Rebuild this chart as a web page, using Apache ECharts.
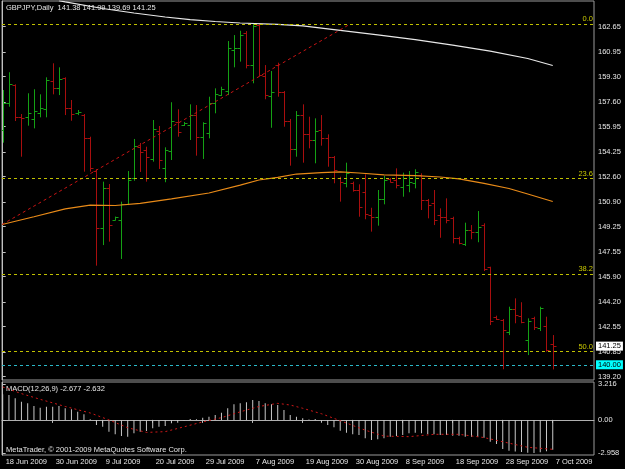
<!DOCTYPE html>
<html>
<head>
<meta charset="UTF-8">
<title>GBPJPY Daily</title>
<script src="https://cdn.jsdelivr.net/npm/echarts@6.0.0/dist/echarts.min.js"></script>
<style>
  html, body { margin: 0; padding: 0; background: #000; }
  #chart { width: 625px; height: 469px; }
</style>
</head>
<body>
<div id="chart"></div>
<script>
// daily bars, oldest first (18 Jun 2009 .. 7 Oct 2009)
const opens = [
  155.73, 157.54, 158.74, 156.58, 156.62, 156.47, 156.89, 157.14, 159.03, 158.52,
  159.19, 157.18, 156.85, 156.73, 155.17, 153.00, 149.18, 151.82, 149.73, 149.70,
  150.77, 152.51, 154.61, 154.39, 153.79, 155.66, 153.16, 154.32, 156.27, 156.06,
  156.06, 156.73, 155.28, 155.51, 157.52, 158.07, 158.34, 161.09, 161.20, 162.21,
  160.08, 162.76, 159.35, 158.01, 160.08, 158.26, 156.33, 154.44, 156.73, 155.44,
  155.06, 155.73, 155.17, 153.94, 152.49, 152.16, 152.20, 151.71, 151.60, 150.03,
  149.92, 151.09, 152.43, 152.38, 151.93, 152.04, 152.16, 152.71, 151.04, 150.82,
  150.03, 149.92, 149.81, 148.47, 148.07, 149.03, 148.92, 149.36, 146.53, 143.22,
  143.00, 142.22, 143.74, 143.27, 141.66, 143.11, 142.44, 142.60, 141.38
];
const highs = [
  158.41, 159.60, 158.79, 156.80, 158.19, 158.46, 158.12, 159.26, 160.20, 159.93,
  159.26, 157.74, 157.07, 156.80, 155.28, 153.10, 152.27, 152.11, 149.93, 150.93,
  152.98, 155.13, 154.86, 154.61, 156.40, 156.00, 154.57, 157.59, 157.12, 156.27,
  157.45, 157.40, 156.25, 157.96, 158.52, 158.63, 161.69, 162.09, 162.38, 162.36,
  162.87, 162.88, 160.08, 159.68, 160.24, 158.34, 156.47, 157.00, 157.45, 156.62,
  156.51, 156.73, 155.44, 153.99, 152.60, 153.54, 152.27, 152.09, 152.76, 150.52,
  151.71, 152.65, 152.51, 153.16, 152.87, 152.98, 153.10, 152.83, 151.11, 151.71,
  150.48, 151.15, 149.92, 148.58, 149.52, 149.36, 150.30, 149.48, 146.57, 143.29,
  143.07, 143.89, 144.45, 144.19, 143.11, 143.22, 143.89, 143.22, 141.99
];
const lows = [
  154.88, 157.29, 156.33, 153.94, 156.02, 155.84, 156.58, 156.58, 158.12, 158.07,
  156.73, 156.35, 156.73, 152.94, 152.94, 146.64, 148.02, 148.25, 149.67, 147.09,
  150.70, 152.33, 152.92, 152.27, 153.61, 153.12, 152.23, 153.72, 155.28, 156.00,
  155.06, 154.01, 153.79, 155.17, 156.85, 158.01, 158.07, 159.93, 160.31, 159.86,
  158.86, 159.30, 157.79, 155.88, 157.96, 155.95, 153.34, 153.94, 153.54, 154.50,
  153.50, 154.68, 153.27, 152.16, 150.93, 151.89, 151.60, 149.92, 149.75, 148.92,
  149.32, 150.75, 152.21, 151.82, 151.26, 151.56, 151.82, 150.37, 149.81, 149.36,
  148.51, 149.48, 148.14, 148.07, 147.96, 148.41, 148.21, 146.28, 142.66, 143.00,
  139.70, 141.99, 142.78, 142.78, 140.65, 142.33, 142.26, 140.88, 139.69
];
const closes = [
  157.52, 158.79, 156.62, 156.53, 156.89, 157.00, 157.18, 159.08, 158.52, 159.17,
  157.18, 156.80, 156.94, 155.17, 153.18, 149.18, 151.82, 149.36, 149.88, 150.77,
  152.38, 154.66, 154.26, 153.90, 155.78, 153.72, 154.39, 156.33, 155.58, 156.18,
  156.73, 155.28, 156.18, 157.52, 158.12, 158.48, 161.20, 161.20, 162.09, 160.08,
  162.72, 159.41, 158.07, 158.26, 158.26, 156.33, 154.44, 156.73, 155.44, 155.06,
  155.68, 155.17, 153.94, 153.05, 152.27, 152.87, 151.71, 150.59, 150.08, 149.92,
  151.09, 152.38, 152.27, 152.04, 152.71, 152.27, 152.94, 151.04, 150.70, 149.70,
  149.92, 149.70, 148.47, 148.14, 149.03, 148.92, 149.21, 146.40, 142.93, 143.05,
  142.33, 143.74, 143.33, 142.89, 142.93, 142.55, 143.78, 140.99, 141.25
];

// moving averages as [bar index, price]
const maWhite = [
  [9, 164.39], [10, 164.31], [16, 163.87], [21, 163.57], [26, 163.30], [30, 163.13],
  [34, 163.00], [38, 162.90], [44, 162.81], [48, 162.70], [54, 162.40], [60, 162.10],
  [66, 161.79], [72, 161.42], [78, 161.02], [84, 160.52], [88, 160.05]
];
const maOrange = [
  [-0.1, 149.40], [5, 149.92], [10, 150.44], [14, 150.70], [18, 150.67], [22, 150.82],
  [27, 151.12], [33, 151.51], [38, 152.04], [41, 152.38], [44, 152.56], [47, 152.78],
  [51, 152.87], [54, 152.92], [57, 152.85], [61, 152.72], [66, 152.67], [70, 152.58],
  [73, 152.45], [77, 152.15], [81, 151.81], [84, 151.44], [88, 150.94]
];

// fibo retracement and trend line
const fibHigh = 162.83;
const fibLow = 118.93;
const fibLevels = [0.0, 23.6, 38.2, 50.0];
const trendLine = [[-0.1, 149.40], [55.6, 162.83]];
const alertLevel = 140.00;

// MACD(12,26,9)
const macdMain = [
  2.29, 2.23, 1.93, 1.63, 1.48, 1.24, 1.09, 1.18, 1.18, 1.24,
  1.04, 0.95, 0.73, 0.50, 0.05, -0.46, -0.61, -1.06, -1.29, -1.44,
  -1.50, -1.20, -1.06, -0.99, -0.75, -0.61, -0.55, -0.30, -0.25, -0.05,
  0.08, 0.05, 0.20, 0.29, 0.44, 0.64, 1.04, 1.40, 1.49, 1.58,
  1.78, 1.69, 1.49, 1.40, 1.33, 0.89, 0.44, 0.29, 0.14, 0.03,
  0.08, -0.25, -0.46, -0.66, -0.97, -1.15, -1.29, -1.35, -1.65, -1.80,
  -1.74, -1.65, -1.50, -1.44, -1.35, -1.20, -1.15, -1.20, -1.26, -1.29,
  -1.35, -1.35, -1.41, -1.41, -1.50, -1.50, -1.50, -1.59, -1.95, -2.16,
  -2.60, -2.75, -2.82, -2.88, -2.93, -2.958, -2.90, -2.80, -2.677
];
const macdSignal = [
  [0, 2.95], [3, 2.35], [6, 1.84], [10, 1.20], [14, 0.62], [17, 0.00], [20, -0.70],
  [23, -1.12], [26, -1.05], [29, -0.62], [32, -0.18], [35, 0.20], [38, 0.72], [41, 1.20],
  [44, 1.48], [46, 1.33], [48, 1.04], [51, 0.55], [54, -0.07], [58, -0.92], [61, -1.45],
  [65, -1.50], [69, -1.29], [73, -1.29], [77, -1.58], [81, -2.08], [84, -2.45], [88, -2.632]
];

// axis labels
const priceTicks = [162.65, 160.95, 159.30, 157.60, 155.95, 154.25, 152.60, 150.90,
  149.25, 147.55, 145.90, 144.20, 142.55, 140.85, 139.20];
const macdTicks = [3.216, 0, -2.958];
const dateLabels = ['18 Jun 2009', '30 Jun 2009', '9 Jul 2009', '20 Jul 2009', '29 Jul 2009',
  '7 Aug 2009', '19 Aug 2009', '30 Aug 2009', '8 Sep 2009', '18 Sep 2009', '28 Sep 2009', '7 Oct 2009'];
const dateStep = 8;

const FONT = 'Liberation Sans';
const TXT = '#e6e6e6';
const UP = '#14a014';
const DOWN = '#a80e0e';

const n = closes.length;
const ohlc = closes.map((c, i) => [i, opens[i], highs[i], lows[i], c]);
const macdData = macdMain.map((v, i) => [i, v]);
const dateTicks = dateLabels.map((_, k) => k * dateStep);
const last = n - 1;

function drawBar(params, api) {
  const i = api.value(0);
  const o = api.value(1), c = api.value(4);
  const top = api.coord([i, api.value(2)]);
  const bot = api.coord([i, api.value(3)]);
  const yo = Math.round(api.coord([i, o])[1]) + 0.5;
  const yc = Math.round(api.coord([i, c])[1]) + 0.5;
  const x = Math.round(top[0]) + 0.5;
  const color = c >= o ? UP : DOWN;
  return {
    type: 'group',
    children: [
      { type: 'line', shape: { x1: x, y1: top[1], x2: x, y2: bot[1] }, style: { stroke: color, lineWidth: 1 } },
      { type: 'line', shape: { x1: x - 3, y1: yo, x2: x, y2: yo }, style: { stroke: color, lineWidth: 1 } },
      { type: 'line', shape: { x1: x, y1: yc, x2: x + 3, y2: yc }, style: { stroke: color, lineWidth: 1 } }
    ]
  };
}

const chart = echarts.init(document.getElementById('chart'));

const xMin = -0.11, xMax = 94.6;

const fibLines = fibLevels.map(lv => ({
  yAxis: fibHigh - (fibHigh - fibLow) * lv / 100,
  lineStyle: { color: '#c0c000', type: [3, 3], width: 1 },
  label: {
    show: true, position: 'insideEndTop', distance: 1,
    formatter: lv.toFixed(1), color: '#c8c800', fontFamily: FONT, fontSize: 7.5
  }
}));

const option = {
  backgroundColor: '#000',
  animation: false,
  textStyle: { fontFamily: FONT },
  grid: [
    { left: 2, top: 1, width: 592, height: 379, show: true, borderColor: '#9a9a9a', borderWidth: 1, backgroundColor: '#000' },
    { left: 2, top: 382, width: 592, height: 73, show: true, borderColor: '#9a9a9a', borderWidth: 1, backgroundColor: '#000' }
  ],
  xAxis: [
    { type: 'value', gridIndex: 0, min: xMin, max: xMax, show: false },
    {
      type: 'value', gridIndex: 1, min: xMin, max: xMax,
      axisLine: { show: true, lineStyle: { color: '#b0b0b0' } },
      axisTick: { show: true, length: 3, customValues: dateTicks, lineStyle: { color: '#c0c0c0' } },
      axisLabel: {
        customValues: dateTicks, align: 'left', margin: 3, padding: [0, 0, 0, 3],
        color: TXT, fontFamily: FONT, fontSize: 7.5,
        formatter: v => dateLabels[Math.round(v / dateStep)] || ''
      },
      splitLine: { show: false }
    }
  ],
  yAxis: [
    {
      type: 'value', gridIndex: 0, position: 'right', min: 138.98, max: 164.373, scale: true,
      axisLine: { show: true, lineStyle: { color: '#c0c0c0' } },
      axisTick: { show: true, length: 3, customValues: priceTicks, lineStyle: { color: '#c0c0c0' } },
      axisLabel: {
        customValues: priceTicks, margin: 4, color: TXT, fontFamily: FONT, fontSize: 7.5,
        formatter: v => v.toFixed(2)
      },
      splitLine: { show: false }
    },
    {
      type: 'value', gridIndex: 1, position: 'right', min: -3.14, max: 3.39,
      axisLine: { show: true, lineStyle: { color: '#c0c0c0' } },
      axisTick: { show: true, length: 3, customValues: macdTicks, lineStyle: { color: '#c0c0c0' } },
      axisLabel: {
        customValues: macdTicks, margin: 4, color: TXT, fontFamily: FONT, fontSize: 7.5,
        formatter: v => (v === 0 ? '0.00' : v.toFixed(3))
      },
      splitLine: { show: false }
    }
  ],
  graphic: [
    {
      type: 'text', left: 6, top: 3.5,
      style: {
        text: 'GBPJPY,Daily  ' + [opens[last], highs[last], lows[last], closes[last]].map(v => v.toFixed(2)).join(' '),
        fill: TXT, font: '7.5px "Liberation Sans"'
      }
    },
    {
      type: 'text', left: 6, top: 385,
      style: {
        text: 'MACD(12,26,9) ' + macdMain[last].toFixed(3) + ' ' + macdSignal[macdSignal.length - 1][1].toFixed(3),
        fill: TXT, font: '7.5px "Liberation Sans"'
      }
    },
    {
      type: 'text', left: 6, top: 446,
      style: { text: 'MetaTrader, © 2001-2009 MetaQuotes Software Corp.', fill: TXT, font: '7.5px "Liberation Sans"' }
    }
  ],
  series: [
    {
      name: 'levels', type: 'line', xAxisIndex: 0, yAxisIndex: 0, data: [], clip: false, silent: true,
      markLine: {
        symbol: ['none', 'none'], silent: true, animation: false,
        data: fibLines.concat([
          {
            yAxis: alertLevel,
            lineStyle: { color: '#2ab8c8', type: [3, 3], width: 1 },
            label: {
              show: true, position: 'end', distance: 2, formatter: alertLevel.toFixed(2),
              color: '#000', backgroundColor: '#00ffff', padding: [1, 2, 0, 2],
              fontFamily: FONT, fontSize: 7.5
            }
          },
          {
            yAxis: closes[last],
            lineStyle: { color: 'rgba(0,0,0,0)', width: 0 },
            label: {
              show: true, position: 'end', distance: 2, formatter: closes[last].toFixed(2),
              color: '#000', backgroundColor: '#ffffff', padding: [1, 2, 0, 2],
              fontFamily: FONT, fontSize: 7.5
            }
          }
        ])
      }
    },
    {
      name: 'MA white', type: 'line', xAxisIndex: 0, yAxisIndex: 0, data: maWhite,
      showSymbol: false, clip: true, lineStyle: { color: '#e8e8e8', width: 1.2 }
    },
    {
      name: 'MA orange', type: 'line', xAxisIndex: 0, yAxisIndex: 0, data: maOrange,
      showSymbol: false, clip: true, lineStyle: { color: '#e88a18', width: 1.2 }
    },
    {
      name: 'trend', type: 'line', xAxisIndex: 0, yAxisIndex: 0, data: trendLine,
      showSymbol: false, clip: true, lineStyle: { color: '#c81414', width: 1, type: [3, 3] }
    },
    {
      name: 'GBPJPY', type: 'custom', xAxisIndex: 0, yAxisIndex: 0, data: ohlc,
      renderItem: drawBar, clip: true, encode: { x: 0, y: [1, 2, 3, 4] }
    },
    {
      name: 'MACD', type: 'bar', xAxisIndex: 1, yAxisIndex: 1, data: macdData,
      barWidth: 1, itemStyle: { color: '#c8c8c8' }
    },
    {
      name: 'Signal', type: 'line', xAxisIndex: 1, yAxisIndex: 1, data: macdSignal,
      showSymbol: false, lineStyle: { color: '#d01818', width: 1, type: [2, 3] }
    }
  ]
};

chart.setOption(option);
</script>
</body>
</html>
